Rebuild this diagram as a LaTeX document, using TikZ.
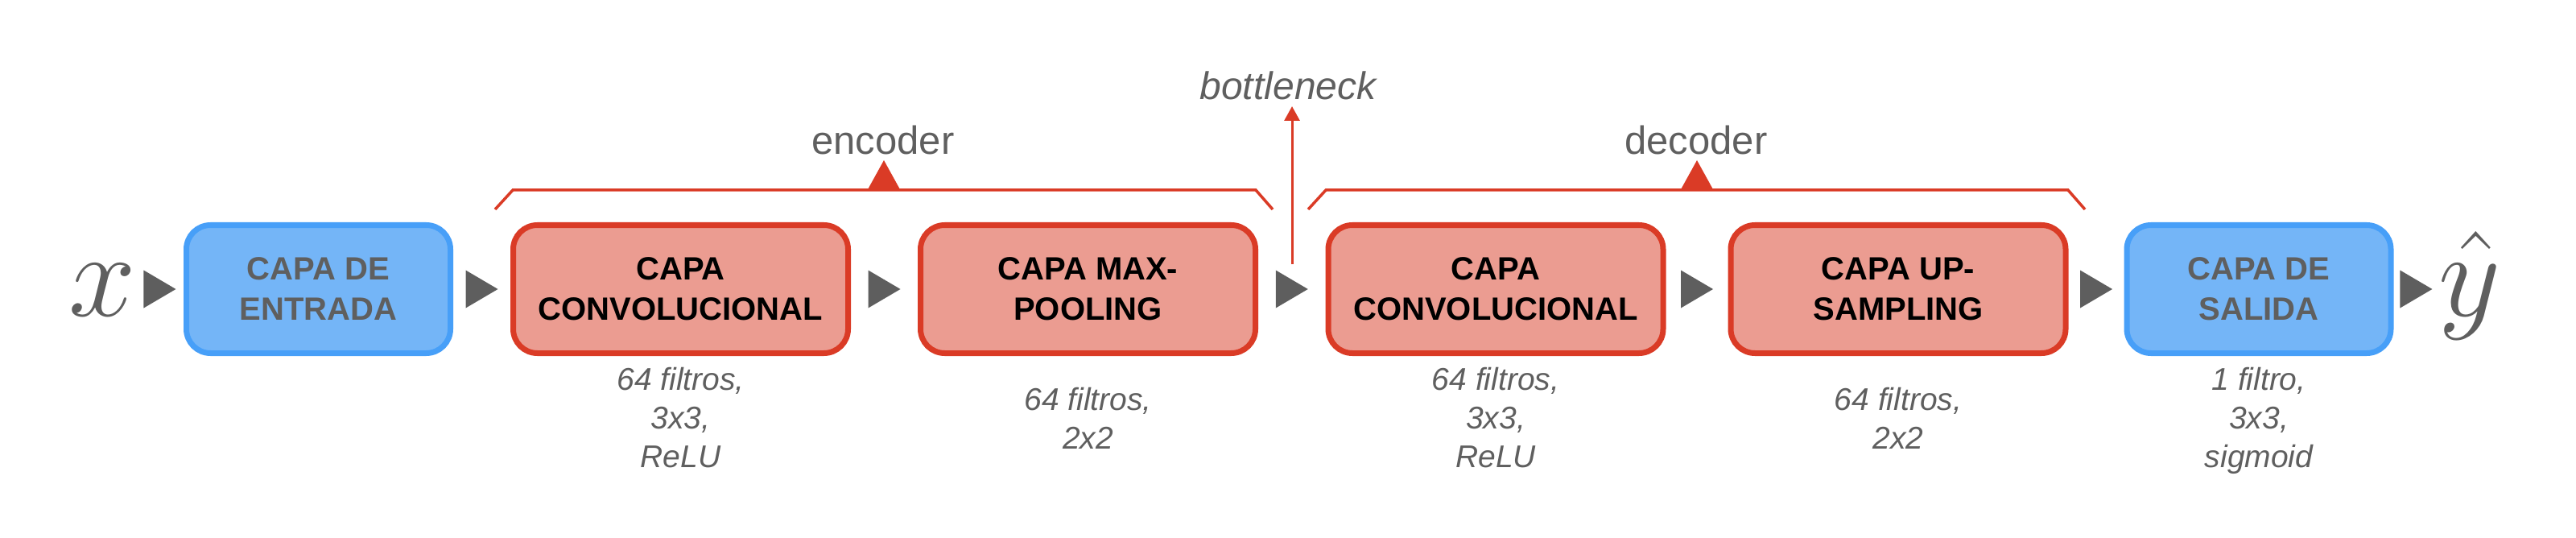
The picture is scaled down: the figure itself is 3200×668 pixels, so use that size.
\documentclass[tikz,border=0pt]{standalone}
\usepackage{graphicx}
\usepackage{fontspec}
\setmainfont{Liberation Sans}
\usetikzlibrary{calc,arrows.meta}
\definecolor{redline}{HTML}{DA3B26}
\definecolor{redfill}{HTML}{EB9C91}
\definecolor{blueline}{HTML}{479FF8}
\definecolor{bluefill}{HTML}{74B5F7}
\definecolor{txtgray}{HTML}{5F5F5F}
\definecolor{arrowgray}{HTML}{5E5E5E}
\newcommand{\bigsym}[1]{\scalebox{6.03}{\fontsize{24.88}{30}\selectfont$#1$}}
\begin{document}
\begin{tikzpicture}[x=1pt,y=-1pt,
  box/.style={rounded corners=30pt, line width=7pt, minimum width=328pt, minimum height=159pt, align=center, inner sep=0pt, font=\fontsize{40}{50}\selectfont\bfseries},
  bluebox/.style={box, draw=blueline, fill=bluefill, text=txtgray},
  redbox/.style={box, draw=redline, fill=redfill, text=black, minimum width=416pt},
  info/.style={anchor=base, align=center, text=txtgray, font=\fontsize{39}{48}\selectfont\itshape, inner sep=0pt},
  group/.style={anchor=base, text=txtgray, font=\fontsize{49}{58}\selectfont, inner sep=0pt},
  brace/.style={draw=redline, line width=3.5pt, line join=miter},
  bracetip/.style={fill=redline},
  sym/.style={anchor=base, inner sep=0pt, text=txtgray},
  flow/.style={fill=arrowgray}]
\useasboundingbox (0,0) rectangle (3200,668);
% main row
\node[sym] (xin) at (127,392) {\bigsym{x}};
\node[bluebox] (in) at (395.5,359) {CAPA DE\\ENTRADA};
\node[redbox] (c1) at (845.5,359) {CAPA\\CONVOLUCIONAL};
\node[redbox] (mp) at (1351.5,359) {CAPA MAX-\\POOLING};
\node[redbox] (c2) at (1858,359) {CAPA\\CONVOLUCIONAL};
\node[redbox] (up) at (2358,359) {CAPA UP-\\SAMPLING};
\node[bluebox] (out) at (2806,359) {CAPA DE\\SALIDA};
\node[sym] (yhat) at (3068,392) {\bigsym{\hat{y}}};
% flow triangles
\foreach \a/\b [count=\i] in {xin/in, in/c1, c1/mp, mp/c2, c2/up, up/out, out/yhat} {
  \coordinate (h\i) at ($(\a.east)!0.5!(\b.west)$);
  \coordinate (m\i) at (h\i |- in.center);
  \fill[flow] ($(m\i)+(-20,-23.5)$) -- ($(m\i)+(20,0)$) -- ($(m\i)+(-20,23.5)$) -- cycle;
}
% labels (base = last line)
\node[info] (l1) at (845.5,580) {64 filtros,\\3x3,\\ReLU};
\node[info] (l2) at (1351.5,557) {64 filtros,\\2x2};
\node[info] (l3) at (1858,580) {64 filtros,\\3x3,\\ReLU};
\node[info] (l4) at (2358,557) {64 filtros,\\2x2};
\node[info] (l5) at (2806,580) {1 filtro,\\3x3,\\sigmoid};
% encoder bracket
\draw[brace] (615,260) -- (637,236) -- (1560,236) -- (1581,260);
\fill[bracetip] (1077,237) -- (1098,199) -- (1119,237) -- cycle;
\node[group] (enc) at (1097,192) {encoder};
% decoder bracket
\draw[brace] (1625,260) -- (1647,236) -- (2569,236) -- (2590,260);
\fill[bracetip] (2087,237) -- (2108,199) -- (2129,237) -- cycle;
\node[group] (dec) at (2107,192) {decoder};
% bottleneck
\node[group, font=\fontsize{48}{58}\selectfont\itshape] (bn) at (1600,124) {bottleneck};
\coordinate (bnfoot) at (1605,328);
\draw[redline, line width=3pt, -{Triangle[length=18pt,width=19pt]}, shorten >=8pt] (bnfoot) -- (bnfoot |- bn.base);
\end{tikzpicture}
\end{document}
